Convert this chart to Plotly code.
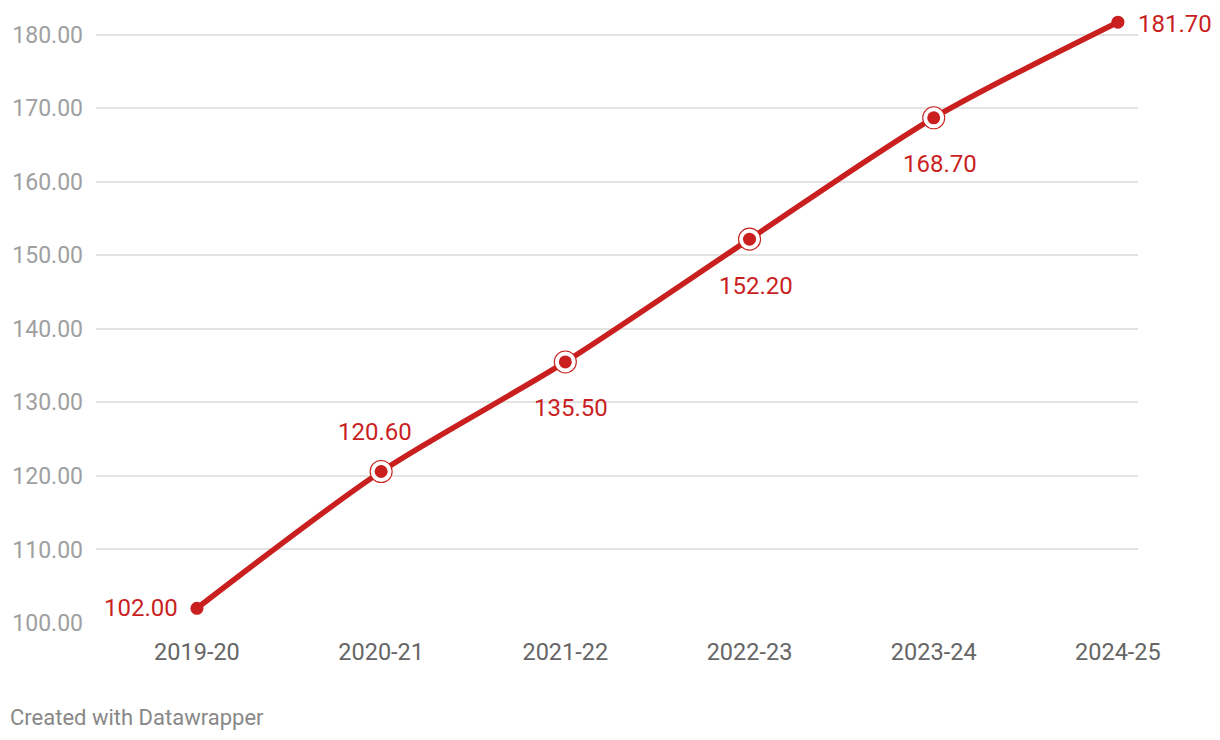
import plotly.graph_objects as go

years = ["2019-20", "2020-21", "2021-22", "2022-23", "2023-24", "2024-25"]
values = [102.0, 120.6, 135.5, 152.2, 168.7, 181.7]
ring_idx = [1, 2, 3, 4]
y_ticks = [100, 110, 120, 130, 140, 150, 160, 170, 180]
# label placement: (xanchor, xshift, yshift)
label_place = [("right", -17, 0), ("center", -6, 40), ("center", 6, -46),
               ("center", 6, -47), ("center", 6, -46), ("left", 18, -2)]

RED = "#c91f1f"
FONT = "Roboto"

fig = go.Figure()
fig.add_trace(go.Scatter(
    x=years, y=values, mode="lines",
    line=dict(color=RED, width=5.5, shape="spline", smoothing=0.8),
    hoverinfo="skip", showlegend=False, cliponaxis=False,
))
fig.add_trace(go.Scatter(
    x=[years[i] for i in ring_idx], y=[values[i] for i in ring_idx], mode="markers",
    marker=dict(size=22, color="white", line=dict(color=RED, width=1.1)),
    hoverinfo="skip", showlegend=False, cliponaxis=False,
))
fig.add_trace(go.Scatter(
    x=years, y=values, mode="markers",
    marker=dict(size=13, color=RED),
    showlegend=False, cliponaxis=False,
))

annotations = []
for yr, v, (xa, xs, ys) in zip(years, values, label_place):
    annotations.append(dict(
        x=yr, y=v, xref="x", yref="y", text=f"{v:.2f}", showarrow=False,
        xanchor=xa, yanchor="middle", xshift=xs, yshift=ys,
        font=dict(family=FONT, size=24, color=RED),
    ))
annotations.append(dict(
    text="Created with Datawrapper", xref="paper", yref="paper",
    x=(0 - 88) / 1042, y=-(709 - 615) / 603, xanchor="left", yanchor="middle",
    showarrow=False, font=dict(family=FONT, size=22, color="#888888"),
))

fig.update_layout(
    width=1220, height=740,
    margin=dict(l=88, r=90, t=12, b=125, autoexpand=False),
    paper_bgcolor="white", plot_bgcolor="white",
    font=dict(family=FONT),
    xaxis=dict(
        type="category", range=[-0.548, 5.109], automargin=False,
        showgrid=False, zeroline=False, showline=False,
        ticks="", tickfont=dict(family=FONT, size=23.5, color="#666666"),
        ticklabelstandoff=12,
    ),
    yaxis=dict(
        range=[100, 182], tickvals=y_ticks, automargin=False,
        ticktext=[f"{t:.2f}" for t in y_ticks],
        showgrid=True, gridcolor="#e3e3e3", gridwidth=1.5,
        zeroline=False, showline=False, ticks="",
        tickfont=dict(family=FONT, size=23, color="#a0a0a0"),
        ticklabelstandoff=12,
    ),
    annotations=annotations,
)

fig.write_html("out.html")
